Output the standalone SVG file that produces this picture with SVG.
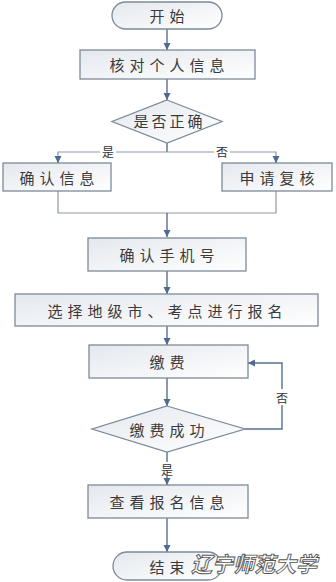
<svg xmlns="http://www.w3.org/2000/svg" width="336" height="582" viewBox="0 0 336 582">
<defs>
<linearGradient id="g" x1="0" y1="0" x2="1" y2="1">
<stop offset="0" stop-color="#e4e8ee"/>
<stop offset="1" stop-color="#ffffff"/>
</linearGradient>
<marker id="a" markerWidth="8" markerHeight="8" refX="7" refY="4" orient="auto" markerUnits="userSpaceOnUse">
<path d="M0,0.5 L7,4 L0,7.5 Z" fill="#4e6a8e"/>
</marker>
<style>
.n{fill:url(#g);stroke:#7d8a98;stroke-width:1.3}
.t{font-family:"Noto Sans CJK SC","Noto Sans CJK JP",sans-serif;font-size:15px;fill:#3a3a3a;text-anchor:middle;dominant-baseline:central;letter-spacing:5px}
.l{font-family:"Noto Sans CJK SC",sans-serif;font-size:12px;fill:#333;text-anchor:middle;dominant-baseline:central}
.c{fill:none;stroke:#56708f;stroke-width:1.4}
.p{fill:none;stroke:#8e99a5;stroke-width:1.2}
.w{font-family:"Noto Sans CJK SC",sans-serif;font-size:21px;font-weight:bold;font-style:italic;fill:#ffffff;stroke:#555;stroke-width:0.9;text-anchor:middle;dominant-baseline:central}
</style>
</defs>
<g id="connectors">
<line class="c" x1="167" y1="29" x2="167" y2="50" marker-end="url(#a)"/>
<line class="c" x1="167" y1="79" x2="167" y2="100" marker-end="url(#a)"/>
<line class="c" x1="167" y1="143" x2="167" y2="152"/>
<polyline class="p" points="167,152 58,152 58,163"/>
<polyline class="p" points="167,152 276,152 276,163"/>
<line class="c" x1="58" y1="156" x2="58" y2="163" marker-end="url(#a)"/>
<line class="c" x1="276" y1="156" x2="276" y2="163" marker-end="url(#a)"/>
<rect x="100" y="145" width="16" height="14" fill="#fff"/>
<rect x="214" y="145" width="16" height="14" fill="#fff"/>
<text class="l" x="108" y="151">是</text>
<text class="l" x="222" y="151">否</text>
<polyline class="p" points="58,191 58,213 276,213 276,191"/>
<line class="c" x1="167" y1="213" x2="167" y2="237" marker-end="url(#a)"/>
<line class="c" x1="167" y1="271" x2="167" y2="294" marker-end="url(#a)"/>
<line class="c" x1="167" y1="326" x2="167" y2="345" marker-end="url(#a)"/>
<line class="c" x1="167" y1="378" x2="167" y2="406" marker-end="url(#a)"/>
<polyline class="c" points="245,429 282,429 282,363 248,363" marker-end="url(#a)"/>
<rect x="275" y="389" width="14" height="16" fill="#fff"/>
<text class="l" x="282" y="397">否</text>
<line class="c" x1="167" y1="452" x2="167" y2="485" marker-end="url(#a)"/>
<rect x="160" y="462" width="14" height="14" fill="#fff"/>
<text class="l" x="167" y="469">是</text>
<line class="c" x1="167" y1="518" x2="167" y2="552" marker-end="url(#a)"/>
</g>
<g id="start">
<rect class="n" x="112" y="2" width="110" height="27" rx="13.5"/>
<text class="t" x="169.5" y="15.5">开始</text>
</g>
<g id="check">
<rect class="n" x="80" y="50" width="175" height="29"/>
<text class="t" x="169.5" y="64.5">核对个人信息</text>
</g>
<g id="correct">
<polygon class="n" points="167,100 222,121.5 167,143 112,121.5"/>
<text class="t" x="169.5" y="120" style="letter-spacing:3px">是否正确</text>
</g>
<g id="confirm">
<rect class="n" x="3" y="163" width="108" height="28"/>
<text class="t" x="59.5" y="177">确认信息</text>
</g>
<g id="review">
<rect class="n" x="222" y="163" width="110" height="28"/>
<text class="t" x="279.5" y="177">申请复核</text>
</g>
<g id="phone">
<rect class="n" x="88" y="238" width="158" height="33"/>
<text class="t" x="169.5" y="254.5">确认手机号</text>
</g>
<g id="select">
<rect class="n" x="15" y="294" width="303" height="32"/>
<text class="t" x="167.5" y="310">选择地级市、考点进行报名</text>
</g>
<g id="pay">
<rect class="n" x="89" y="345" width="159" height="33"/>
<text class="t" x="169.5" y="361.5">缴费</text>
</g>
<g id="paysuccess">
<polygon class="n" points="167,406 245,429 167,452 92,429"/>
<text class="t" x="169.5" y="429">缴费成功</text>
</g>
<g id="view">
<rect class="n" x="88" y="485" width="160" height="33"/>
<text class="t" x="169.5" y="501.5">查看报名信息</text>
</g>
<g id="end">
<rect class="n" x="113" y="552" width="109" height="28" rx="14"/>
<text class="t" x="169.5" y="566">结束</text>
</g>
<text class="w" x="254" y="563">辽宁师范大学</text>
</svg>
